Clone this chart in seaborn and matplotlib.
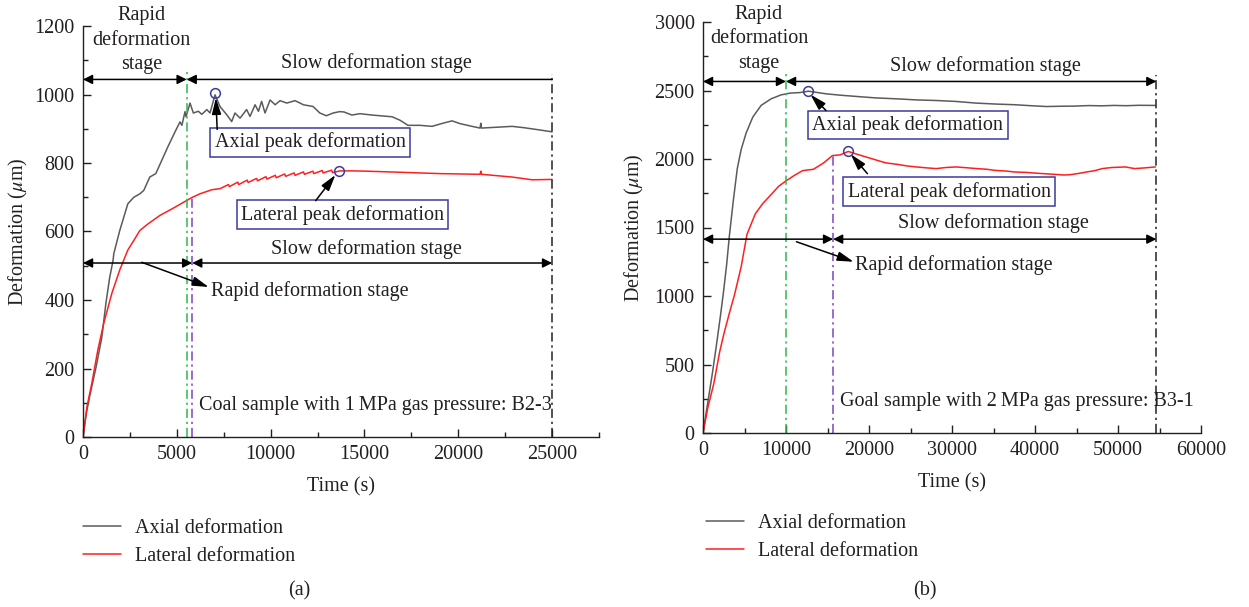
import numpy as np
import pandas as pd
import matplotlib
matplotlib.use("Agg")
import matplotlib.pyplot as plt
from matplotlib.ticker import MultipleLocator
import seaborn as sns

# ---------------- data: sample B2-3 (1 MPa) ----------------
axial_a_t = [0, 180, 360, 700, 1000, 1220, 1420, 1600, 1640, 1960, 2390, 2710, 3030, 3240,
             3560, 3880, 4200, 4520, 4950, 5170, 5270, 5437, 5490, 5704, 5880, 6150, 6330,
             6600, 6770, 7036, 7300, 7660, 7925, 8100, 8370, 8720, 8900, 9170, 9350, 9520,
             9700, 9970, 10240, 10500, 10860, 11300, 11750, 12260, 12620, 12970, 13330,
             13680, 13910, 14330, 14760, 15400, 16040, 16470, 16890, 17320, 17960, 18600,
             19240, 19670, 20090, 20730, 21160, 21200, 21240, 22240, 22870, 23510, 24150, 25000]
axial_a = [0, 70, 120, 205, 290, 390, 465, 515, 535, 603, 681, 700, 710, 720,
           759, 769, 808, 847, 896, 920, 910, 950, 935, 975, 946, 951, 942,
           956, 946, 999, 965, 941, 921, 946, 931, 956, 936, 970, 951, 980,
           946, 984, 970, 982, 975, 982, 970, 965, 946, 938, 946,
           950, 949, 940, 944, 940, 937, 935, 925, 910, 910, 907,
           917, 923, 915, 907, 902, 916, 902, 905, 907, 903, 898, 891]

lateral_a_t = [0, 210, 470, 790, 1110, 1540, 1960, 2390, 2710, 3030, 3460, 4100, 4740,
               5380, 5800, 6230, 6870, 7300, 7750, 7800, 8250, 8300, 8750, 8800, 9250,
               9300, 9750, 9800, 10250, 10300, 10750, 10800, 11250, 11300, 11750, 11800,
               12250, 12300, 12750, 12800, 13250, 13300, 13700, 14330, 15190, 16890,
               19030, 21160, 21200, 21240, 22870, 23930, 25000]
lateral_a = [0, 88, 157, 254, 333, 420, 488, 546, 574, 603, 622, 647, 666,
             686, 699, 710, 722, 725, 737, 731, 744, 737, 750, 743, 755,
             748, 760, 753, 764, 757, 768, 761, 771, 764, 774, 767,
             776, 769, 778, 771, 779, 772, 777, 777, 776, 773,
             769, 767, 776, 767, 759, 751, 752]

# ---------------- data: sample B3-1 (2 MPa) ----------------
axial_b_t = [0, 570, 1140, 1615, 2090, 2470, 2850, 3180, 3660, 4130, 4600, 5200, 6000,
             7000, 8200, 9400, 10500, 11700, 12700, 14800, 16500, 18600, 20800, 23400,
             25800, 28100, 30500, 32900, 35300, 37600, 39500, 41400, 43000, 44700, 46500,
             48000, 49500, 51000, 52500, 54500]
axial_b = [0, 220, 440, 640, 850, 1030, 1230, 1440, 1700, 1930, 2070, 2190, 2306,
           2391, 2439, 2468, 2481, 2485, 2495, 2476, 2466, 2456, 2446, 2439,
           2431, 2427, 2420, 2408, 2401, 2396, 2389, 2383, 2385, 2386, 2390,
           2388, 2391, 2389, 2392, 2391]

lateral_b_t = [0, 600, 1300, 2000, 2500, 3200, 3800, 4600, 5300, 6300, 7200, 7900, 9100,
               10000, 11000, 12000, 13300, 14500, 15600, 16500, 17500, 18600, 19800,
               21000, 22000, 23400, 24500, 25700, 27000, 28100, 29300, 30500, 31800, 33000,
               34200, 35200, 36500, 37600, 39000, 40500, 42400, 43500, 44300, 45300, 46200,
               47200, 48100, 49300, 50900, 52000, 53200, 54500]
lateral_b = [0, 190, 360, 590, 720, 880, 1010, 1214, 1450, 1600, 1675, 1720, 1800,
             1840, 1880, 1915, 1925, 1970, 2025, 2030, 2055, 2034, 2012,
             1990, 1972, 1961, 1950, 1942, 1935, 1930, 1938, 1942, 1936, 1930,
             1925, 1917, 1912, 1905, 1902, 1895, 1888, 1883, 1886, 1895, 1905,
             1915, 1930, 1938, 1942, 1930, 1935, 1942]

# stage boundaries and peaks
a_green, a_purple, a_end = 5525, 5820, 25000
b_green, b_purple, b_end = 10000, 15675, 54625
a_axial_peak, a_lateral_peak = (7036, 1003), (13650, 778)
b_axial_peak, b_lateral_peak = (12682, 2495), (17527, 2055)

series_labels = ["Axial deformation", "Lateral deformation"]

# ---------------- style ----------------
sns.set_style("ticks")
plt.rcParams["font.family"] = ["Liberation Serif", "DejaVu Serif"]
plt.rcParams["mathtext.fontset"] = "stix"
FS = 14.5
TXT = "#231f20"
GRAY = "#5b5b5b"
RED = "#ff1f1f"
GREEN = "#2fb84a"
PURPLE = "#7a44c4"
BOXC = "#3c3c9c"

W, H = 1249, 607
fig = plt.figure(figsize=(W / 100, H / 100), dpi=100)
ax1 = fig.add_axes([83 / W, 1 - 437 / H, (599 - 83) / W, (437 - 26) / H])
ax2 = fig.add_axes([703 / W, 1 - 433 / H, (1201 - 703) / W, (433 - 22) / H])


def draw_curves(ax, ta, ya, tl, yl):
    df_ax = pd.DataFrame({"t": ta, "v": ya})
    df_la = pd.DataFrame({"t": tl, "v": yl})
    sns.lineplot(data=df_ax, x="t", y="v", ax=ax, color=GRAY, lw=1.1,
                 sort=False, estimator=None, label=series_labels[0])
    sns.lineplot(data=df_la, x="t", y="v", ax=ax, color=RED, lw=1.1,
                 sort=False, estimator=None, label=series_labels[1])


def style_axes(ax, xmax, xmaj, ymax, ymaj, ylpad):
    ax.set_xlim(0, xmax)
    ax.set_ylim(0, ymax)
    ax.xaxis.set_major_locator(MultipleLocator(xmaj))
    ax.xaxis.set_minor_locator(MultipleLocator(xmaj / 2))
    ax.yaxis.set_major_locator(MultipleLocator(ymaj))
    ax.yaxis.set_minor_locator(MultipleLocator(ymaj / 2))
    ax.tick_params(which="both", direction="in", color=TXT, width=1,
                   labelsize=FS, labelcolor=TXT, pad=6)
    ax.tick_params(which="major", length=6)
    ax.tick_params(which="minor", length=3.5)
    for s in ["top", "right"]:
        ax.spines[s].set_visible(False)
    for s in ["left", "bottom"]:
        ax.spines[s].set_color(TXT)
        ax.spines[s].set_linewidth(1)
    ax.set_xlabel("Time (s)", fontsize=FS, color=TXT, labelpad=9)
    ax.set_ylabel(r"Deformation ($\mu$m)", fontsize=FS, color=TXT, labelpad=ylpad)


def vline(ax, x, y0, y1, color):
    ax.plot([x, x], [y0, y1], color=color, lw=1.1, dashes=(6, 2.5, 1.5, 2.5),
            clip_on=False)


def harrow(ax, x0, x1, y, style):
    ax.annotate("", xy=(x1, y), xytext=(x0, y),
                arrowprops=dict(arrowstyle=style, color="black", lw=1.1,
                                shrinkA=0, shrinkB=0, mutation_scale=14),
                annotation_clip=False)


def pointer(ax, start, end):
    ax.annotate("", xy=end, xytext=start,
                arrowprops=dict(arrowstyle="-|>,head_length=0.7,head_width=0.2",
                                color="black", lw=1.1, shrinkA=0, shrinkB=0,
                                mutation_scale=14),
                annotation_clip=False)


def peak_box(ax, x, y, s):
    ax.text(x, y, s, fontsize=FS, color=TXT, ha="center", va="center",
            bbox=dict(boxstyle="square,pad=0.22", fc="white", ec=BOXC, lw=1.1))


def peak_marker(ax, p):
    ax.plot([p[0]], [p[1]], marker="o", ms=7, mfc="none", mec=BOXC, mew=1.1,
            clip_on=False)


# ---------------- panel (a) ----------------
draw_curves(ax1, axial_a_t, axial_a, lateral_a_t, lateral_a)
style_axes(ax1, 27500, 5000, 1200, 200, 3)
vline(ax1, a_green, 0, 1065, GREEN)
vline(ax1, a_purple, 0, 705, PURPLE)
vline(ax1, a_end, 0, 1060, "#222222")
harrow(ax1, 0, a_green, 1044, "<|-|>")
harrow(ax1, a_end, a_green, 1044, "-|>")
harrow(ax1, 0, a_purple, 508, "<|-|>")
harrow(ax1, a_purple, a_end, 508, "<|-|>")
ax1.text(3136, 1159, "Rapid\ndeformation\nstage", fontsize=FS, color=TXT,
         ha="center", va="center", linespacing=1.38)
ax1.text(15614, 1091, "Slow deformation stage", fontsize=FS, color=TXT,
         ha="center", va="center")
ax1.text(15081, 549, "Slow deformation stage", fontsize=FS, color=TXT,
         ha="center", va="center")
ax1.text(6805, 425, "Rapid deformation stage", fontsize=FS, color=TXT,
         ha="left", va="center")
pointer(ax1, (3136, 510), (6700, 438))
ax1.text(6165, 92, "Coal sample with 1\u2009MPa gas pressure: B2-3", fontsize=FS,
         color=TXT, ha="left", va="center")
peak_marker(ax1, a_axial_peak)
peak_marker(ax1, a_lateral_peak)
peak_box(ax1, 12117, 860, "Axial peak deformation")
pointer(ax1, (7150, 898), (7080, 990))
peak_box(ax1, 13833, 649, "Lateral peak deformation")
pointer(ax1, (12400, 690), (13450, 765))

# ---------------- panel (b) ----------------
draw_curves(ax2, axial_b_t, axial_b, lateral_b_t, lateral_b)
style_axes(ax2, 60000, 10000, 3000, 500, 6)
vline(ax2, b_green, 0, 2641, GREEN)
vline(ax2, b_purple, 0, 2034, PURPLE)
vline(ax2, b_end, 0, 2610, "#222222")
harrow(ax2, 0, b_green, 2566, "<|-|>")
harrow(ax2, b_green, b_end, 2566, "<|-|>")
harrow(ax2, 0, b_purple, 1415, "<|-|>")
harrow(ax2, b_purple, b_end, 1415, "<|-|>")
ax2.text(6745, 2876, "Rapid\ndeformation\nstage", fontsize=FS, color=TXT,
         ha="center", va="center", linespacing=1.38)
ax2.text(34057, 2682, "Slow deformation stage", fontsize=FS, color=TXT,
         ha="center", va="center")
ax2.text(35007, 1534, "Slow deformation stage", fontsize=FS, color=TXT,
         ha="center", va="center")
ax2.text(18287, 1226, "Rapid deformation stage", fontsize=FS, color=TXT,
         ha="left", va="center")
pointer(ax2, (11257, 1396), (18145, 1250))
ax2.text(16482, 227, "Goal sample with 2\u2009MPa gas pressure: B3-1", fontsize=FS,
         color=TXT, ha="left", va="center")
peak_marker(ax2, b_axial_peak)
peak_marker(ax2, b_lateral_peak)
peak_box(ax2, 24676, 2248, "Axial peak deformation")
pointer(ax2, (14820, 2354), (12950, 2470))
peak_box(ax2, 29664, 1762, "Lateral peak deformation")
pointer(ax2, (19807, 1893), (17800, 2035))

# ---------------- legends and captions ----------------
for ax, (lx, ly) in [(ax1, (83, 519)), (ax2, (706, 514))]:
    ax.legend(loc="upper left", bbox_to_anchor=(lx / W, 1 - ly / H),
              bbox_transform=fig.transFigure, frameon=False, fontsize=FS,
              handlelength=1.9, handletextpad=0.7, labelspacing=0.42,
              borderpad=0, borderaxespad=0, labelcolor=TXT)

fig.text(299 / W, 1 - 591 / H, "(a)", fontsize=FS, color=TXT, ha="center", va="center")
fig.text(925 / W, 1 - 591 / H, "(b)", fontsize=FS, color=TXT, ha="center", va="center")

fig.savefig("out.png", dpi=100)
